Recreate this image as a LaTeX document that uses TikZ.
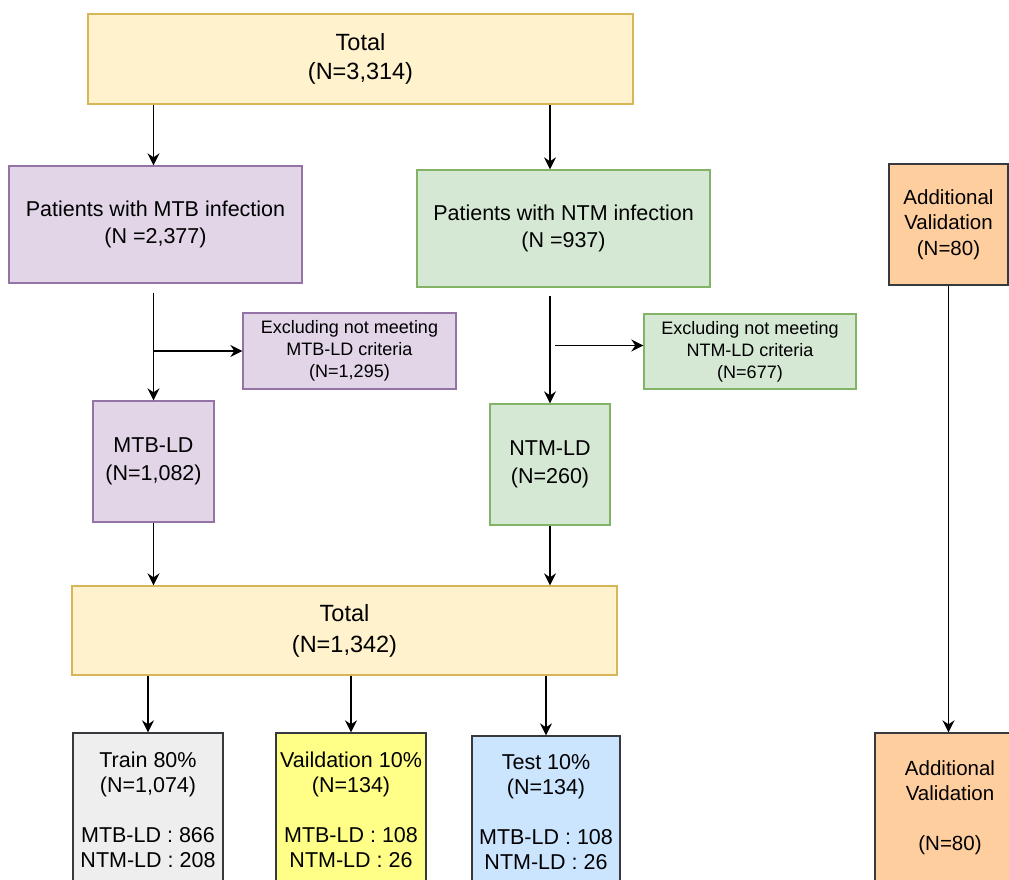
\documentclass[tikz,border=0pt]{standalone}
\usepackage{fontspec}
\setmainfont{Liberation Sans}
\usetikzlibrary{arrows.meta,positioning}
\definecolor{butter}{HTML}{FFF2CC}
\definecolor{butterline}{HTML}{D6B656}
\definecolor{lilac}{HTML}{E1D5E7}
\definecolor{lilacline}{HTML}{9673A6}
\definecolor{mint}{HTML}{D5E8D4}
\definecolor{mintline}{HTML}{82B366}
\definecolor{apricot}{HTML}{FFCE9F}
\definecolor{ashgrey}{HTML}{EEEEEE}
\definecolor{lemon}{HTML}{FFFF88}
\definecolor{skyblue}{HTML}{CCE5FF}
\definecolor{slate}{HTML}{36393D}

\begin{document}
\begin{tikzpicture}[x=1pt, y=-1pt,
    box/.style={draw, line width=1.3pt, align=center, inner sep=0pt,
        font=\fontsize{21.5}{27}\selectfont},
    flow/.style={-{Stealth[length=12pt,width=12pt]}, line width=1.6pt}]
    \useasboundingbox (0,0) rectangle (1009,879);
    \clip (0,0) rectangle (1009,879);

    % First split
    \node[box, fill=butter, draw=butterline, minimum width=545pt, minimum height=90pt,
        font=\fontsize{23.5}{29}\selectfont] (total) at (360.5,59) {Total\\(N=3,314)};
    \node[box, fill=lilac, draw=lilacline, minimum width=293pt, minimum height=117pt]
        (mtb) at (155.5,224.5) {Patients with MTB infection\\(N =2,377)};
    \node[box, fill=mint, draw=mintline, minimum width=293pt, minimum height=117pt]
        (ntm) at (563.5,228.5) {Patients with NTM infection\\(N =937)};

    % Exclusions
    \node[box, fill=lilac, draw=lilacline, minimum width=213pt, minimum height=76pt,
        font=\fontsize{18}{22}\selectfont] (exmtb) at (349.5,351)
        {Excluding not meeting\\MTB-LD criteria\\(N=1,295)};
    \node[box, fill=mint, draw=mintline, minimum width=212pt, minimum height=75pt,
        font=\fontsize{18}{22}\selectfont] (exntm) at (750,351.5)
        {Excluding not meeting\\NTM-LD criteria\\(N=677)};

    \node[box, fill=lilac, draw=lilacline, minimum width=121pt, minimum height=121pt,
        font=\fontsize{21.5}{28}\selectfont] (mtbld) at (153.5,461.5) {MTB-LD\\(N=1,082)};
    \node[box, fill=mint, draw=mintline, minimum width=120pt, minimum height=121pt,
        font=\fontsize{21.5}{28}\selectfont] (ntmld) at (550,464.5) {NTM-LD\\(N=260)};

    % Pooled set and split
    \node[box, fill=butter, draw=butterline, minimum width=545pt, minimum height=89pt,
        font=\fontsize{23.5}{31}\selectfont] (pool) at (344.5,630.5) {Total\\(N=1,342)};
    \node[box, fill=ashgrey, draw=slate, minimum width=150pt, minimum height=153pt,
        font=\fontsize{21.5}{25}\selectfont] (train) at (148,809.5)
        {Train 80\%\\(N=1,074)\\[25pt]MTB-LD : 866\\NTM-LD : 208};
    \node[box, fill=lemon, draw=slate, minimum width=150pt, minimum height=153pt,
        font=\fontsize{21.5}{25}\selectfont] (valid) at (351,809.5)
        {Vaildation 10\%\\(N=134)\\[25pt]MTB-LD : 108\\NTM-LD : 26};
    \node[box, fill=skyblue, draw=slate, minimum width=148pt, minimum height=153pt,
        font=\fontsize{21.5}{25}\selectfont] (test) at (546,812.5)
        {Test 10\%\\(N=134)\\[25pt]MTB-LD : 108\\NTM-LD : 26};

    % External set
    \node[box, fill=apricot, draw=slate, minimum width=119pt, minimum height=121pt,
        font=\fontsize{20.5}{25.5}\selectfont] (addtop) at (948.5,224.5)
        {Additional\\Validation\\(N=80)};
    \node[box, fill=apricot, draw=slate, minimum width=150pt, minimum height=149pt,
        font=\fontsize{20.5}{25}\selectfont] (addbot) at (950,807.5)
        {Additional\\Validation\\[25pt](N=80)};

    % Arrows
    \draw[flow] (total.south -| mtbld) -- (mtbld |- mtb.north);
    \draw[flow] (total.south -| ntmld) -- (ntmld |- ntm.north);
    \draw[flow, shorten <=9pt] (mtbld |- mtb.south) -- (mtbld.north);
    \draw[flow] (mtbld |- exmtb.west) -- (exmtb.west);
    \draw[flow, shorten <=8pt] (ntmld |- ntm.south) -- (ntmld.north);
    \draw[flow, shorten <=5pt] ([yshift=6pt]ntmld |- exntm.west) -- ([yshift=6pt]exntm.west);
    \draw[flow] (mtbld.south) -- (mtbld |- pool.north);
    \draw[flow] (ntmld.south) -- (ntmld |- pool.north);
    \draw[flow] (pool.south -| train) -- (train.north);
    \draw[flow] (pool.south -| valid) -- (valid.north);
    \draw[flow] (pool.south -| test) -- (test.north);
    \draw[flow] (addtop.south) -- (addtop.south |- addbot.north);

\end{tikzpicture}
\end{document}
